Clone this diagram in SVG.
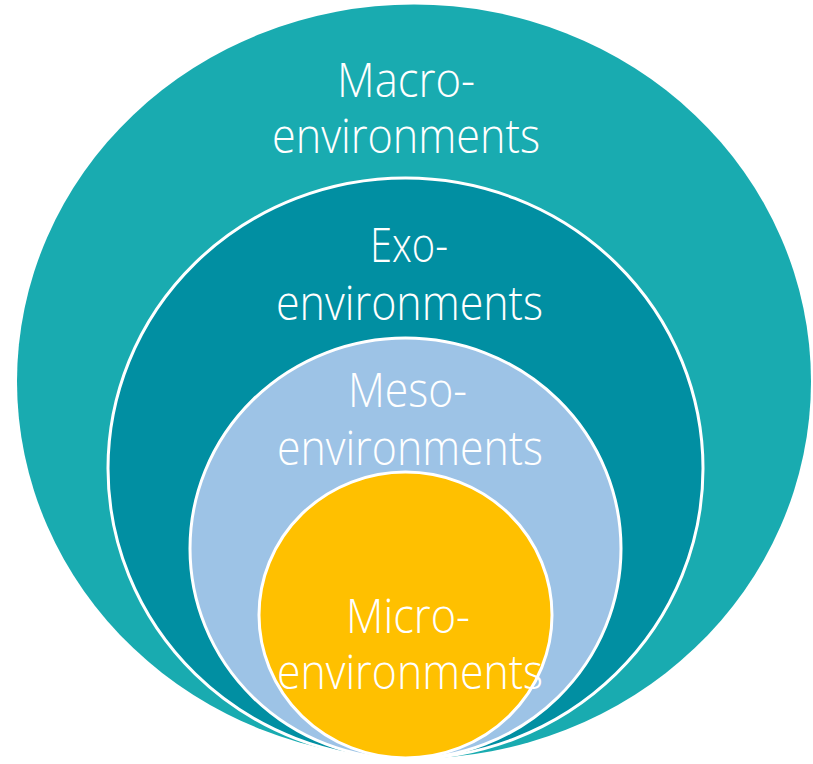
<svg xmlns="http://www.w3.org/2000/svg" width="813" height="764" viewBox="0 0 813 764">
<style>
.lbl{font-family:"Open Sans","Liberation Sans",sans-serif;font-weight:300;font-size:48px;fill:#ffffff;text-anchor:middle}
.ring{stroke:#ffffff;stroke-width:3}
</style>
<rect width="813" height="764" fill="#ffffff"/>
<g id="macro">
<ellipse cx="414" cy="381.5" rx="397" ry="377" fill="#19ABB0"/>
<text class="lbl" x="406" y="97" textLength="138" lengthAdjust="spacingAndGlyphs">Macro-</text>
<text class="lbl" x="406" y="153" textLength="268" lengthAdjust="spacingAndGlyphs">environments</text>
</g>
<g id="exo">
<ellipse class="ring" cx="405.5" cy="468.5" rx="297.5" ry="290.5" fill="#018FA2"/>
<text class="lbl" x="409" y="262" textLength="78" lengthAdjust="spacingAndGlyphs">Exo-</text>
<text class="lbl" x="409.5" y="320" textLength="267" lengthAdjust="spacingAndGlyphs">environments</text>
</g>
<g id="meso">
<ellipse class="ring" cx="405.5" cy="548.5" rx="215.5" ry="210.5" fill="#9DC3E6"/>
<text class="lbl" x="407.5" y="407" textLength="119" lengthAdjust="spacingAndGlyphs">Meso-</text>
<text class="lbl" x="410" y="465" textLength="266" lengthAdjust="spacingAndGlyphs">environments</text>
</g>
<g id="micro">
<ellipse class="ring" cx="405.5" cy="615" rx="146.5" ry="143" fill="#FFC000"/>
<text class="lbl" x="408" y="633" textLength="124" lengthAdjust="spacingAndGlyphs">Micro-</text>
<text class="lbl" x="410" y="689" textLength="266" lengthAdjust="spacingAndGlyphs">environments</text>
</g>
<g id="connectors"/>
</svg>
